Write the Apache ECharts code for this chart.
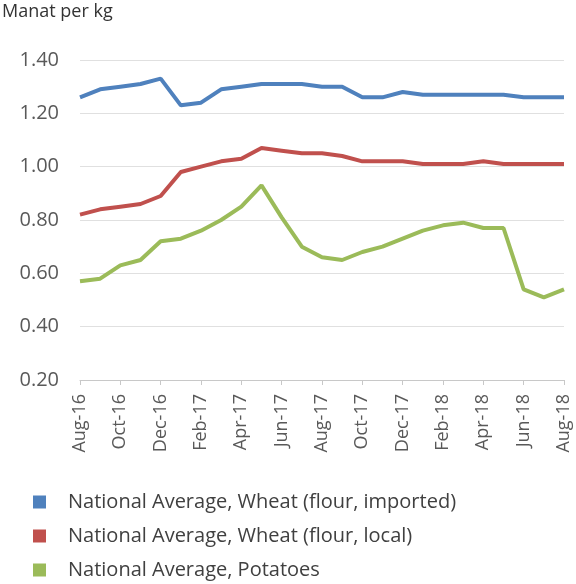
<!DOCTYPE html>
<html>
<head>
<meta charset="utf-8">
<script src="https://cdn.jsdelivr.net/npm/echarts@6/dist/echarts.min.js"></script>
<style>
    html, body { margin: 0; padding: 0; background: #fff; }
    #chart { width: 576px; height: 584px; }
</style>
</head>
<body>
<div id="chart"></div>
<script>
    // months Aug-16 .. Aug-18
    const months = ['Aug-16', 'Sep-16', 'Oct-16', 'Nov-16', 'Dec-16', 'Jan-17', 'Feb-17', 'Mar-17', 'Apr-17',
        'May-17', 'Jun-17', 'Jul-17', 'Aug-17', 'Sep-17', 'Oct-17', 'Nov-17', 'Dec-17', 'Jan-18', 'Feb-18',
        'Mar-18', 'Apr-18', 'May-18', 'Jun-18', 'Jul-18', 'Aug-18']
    const wheatImported = [1.26, 1.29, 1.30, 1.31, 1.33, 1.23, 1.24, 1.29, 1.30, 1.31, 1.31, 1.31, 1.30,
        1.30, 1.26, 1.26, 1.28, 1.27, 1.27, 1.27, 1.27, 1.27, 1.26, 1.26, 1.26]
    const wheatLocal = [0.82, 0.84, 0.85, 0.86, 0.89, 0.98, 1.00, 1.02, 1.03, 1.07, 1.06, 1.05, 1.05,
        1.04, 1.02, 1.02, 1.02, 1.01, 1.01, 1.01, 1.02, 1.01, 1.01, 1.01, 1.01]
    const potatoes = [0.57, 0.58, 0.63, 0.65, 0.72, 0.73, 0.76, 0.80, 0.85, 0.93, 0.81, 0.70, 0.66,
        0.65, 0.68, 0.70, 0.73, 0.76, 0.78, 0.79, 0.77, 0.77, 0.54, 0.51, 0.54]
    const seriesNames = ['National Average, Wheat (flour, imported)', 'National Average, Wheat (flour, local)',
        'National Average, Potatoes']
    const colors = ['#4f81bd', '#c0504d', '#9bbb59']

    const chart = echarts.init(document.getElementById('chart'))
    const mkLine = (name, data, i) => ({
        name: name,
        type: 'line',
        data: data,
        symbol: 'none',
        lineStyle: {width: 4, color: colors[i]},
        itemStyle: {color: colors[i]}
    })
    chart.setOption({
        animation: false,
        textStyle: {fontFamily: 'Open Sans'},
        title: {
            text: 'Manat per kg', left: 0, top: 1, padding: 2,
            textStyle: {fontSize: 18, fontWeight: 'normal', color: '#333'}
        },
        legend: {
            orient: 'vertical', left: 33, top: 492, itemGap: 14, padding: 0,
            icon: 'rect', itemWidth: 13, itemHeight: 13,
            textStyle: {fontSize: 20, color: '#404040', padding: [0, 0, 0, 17]},
            data: seriesNames
        },
        grid: {left: 80, right: 12, top: 60, bottom: 204, containLabel: false},
        xAxis: {
            type: 'category',
            data: months,
            boundaryGap: false,
            axisLine: {lineStyle: {color: '#c8c8c8'}},
            axisTick: {interval: 1, length: 5, lineStyle: {color: '#c8c8c8'}},
            axisLabel: {interval: 1, rotate: 90, fontSize: 18, color: '#595959', margin: 14}
        },
        yAxis: {
            type: 'value',
            min: 0.2, max: 1.4, interval: 0.2,
            axisLine: {show: false},
            axisTick: {show: false},
            splitLine: {lineStyle: {color: '#e0e0e0'}},
            axisLabel: {fontSize: 20, color: '#595959', margin: 21, formatter: v => v.toFixed(2)}
        },
        series: [
            mkLine(seriesNames[0], wheatImported, 0),
            mkLine(seriesNames[1], wheatLocal, 1),
            mkLine(seriesNames[2], potatoes, 2)
        ]
    })
</script>
</body>
</html>
